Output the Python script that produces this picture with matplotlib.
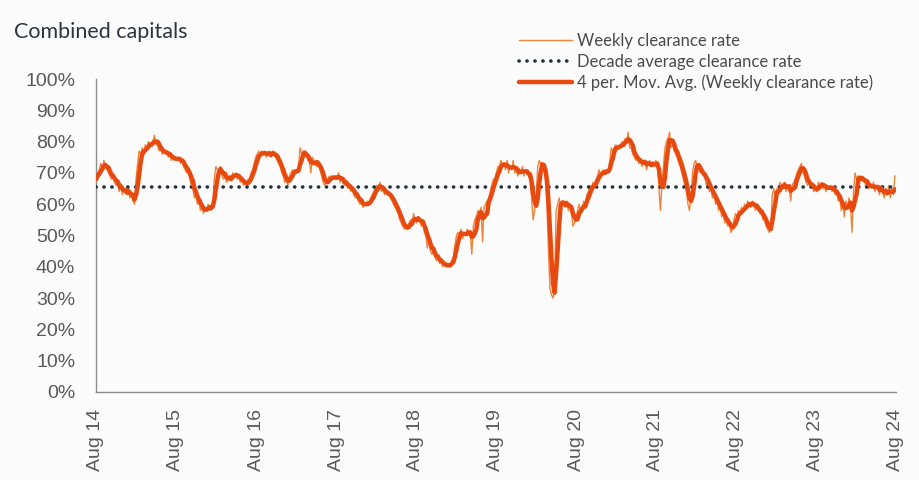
import matplotlib
matplotlib.use("Agg")
import matplotlib.pyplot as plt
import numpy as np
import pandas as pd

title = "Combined capitals"
series_labels = ["Weekly clearance rate", "Decade average clearance rate",
                 "4 per. Mov. Avg. (Weekly clearance rate)"]
start_week = "2014-08-02"
decade_avg = 65.5

# weekly clearance rate (%), one row per year starting in August
weekly_y14 = [68, 70, 71, 73, 71, 74, 72, 71, 70, 69, 68, 69, 67, 66, 67, 64, 66, 63, 65, 64,
              63, 65, 62, 63, 61, 60, 68, 73, 77, 76, 78, 76, 79, 78, 80, 79, 79, 80, 82, 79,
              79, 77, 78, 76, 77, 76, 77, 75, 76, 74, 75, 74]
weekly_y15 = [75, 74, 75, 73, 74, 72, 71, 70, 71, 68, 66, 65, 62, 63, 60, 61, 58, 59, 57, 59,
              58, 60, 59, 58, 60, 68, 72, 71, 70, 72, 69, 68, 70, 67, 68, 69, 68, 70, 69, 70,
              68, 69, 67, 68, 66, 67, 66, 68, 68, 70, 71, 73]
weekly_y16 = [75, 76, 77, 75, 77, 76, 77, 75, 76, 77, 75, 77, 76, 75, 74, 73, 72, 70, 69, 67,
              68, 66, 69, 70, 71, 70, 71, 70, 72, 78, 76, 77, 75, 76, 74, 74, 70, 75, 74, 73,
              72, 73, 71, 69, 67, 66, 67, 68, 69, 68, 69, 68]
weekly_y17 = [69, 68, 70, 67, 68, 67, 66, 67, 65, 66, 64, 65, 63, 62, 63, 61, 60, 61, 59, 60,
              60, 61, 60, 62, 63, 64, 65, 66, 65, 67, 64, 65, 63, 64, 63, 63, 62, 61, 60, 59,
              58, 57, 55, 54, 53, 52, 53, 52, 54, 55, 54, 57]
weekly_y18 = [55, 54, 56, 55, 53, 54, 51, 50, 46, 49, 45, 44, 45, 43, 42, 43, 41, 42, 40, 41,
              40, 41, 40, 41, 42, 43, 47, 50, 51, 50, 52, 49, 51, 50, 52, 51, 51, 44, 53, 55,
              56, 58, 57, 59, 48, 59, 60, 61, 62, 64, 66, 68]
weekly_y19 = [68, 70, 72, 72, 74, 72, 73, 71, 74, 70, 72, 71, 74, 70, 71, 69, 71, 70, 72, 69,
              71, 70, 69, 68, 62, 55, 58, 63, 72, 74, 73, 72, 71, 68, 60, 45, 33, 31, 30, 33,
              58, 60, 62, 59, 61, 60, 59, 61, 58, 60, 57, 53]
weekly_y20 = [54, 56, 58, 60, 57, 59, 61, 60, 63, 64, 66, 65, 67, 66, 68, 69, 71, 69, 70, 71,
              70, 71, 70, 74, 78, 77, 78, 79, 78, 78, 79, 80, 79, 81, 80, 83, 78, 78, 76, 75,
              74, 75, 73, 74, 72, 74, 74, 71, 73, 74, 72, 73]
weekly_y21 = [72, 74, 73, 66, 58, 66, 72, 78, 80, 81, 83, 78, 79, 77, 76, 75, 73, 72, 70, 68,
              66, 64, 60, 58, 62, 70, 73, 74, 72, 71, 70, 70, 69, 69, 66, 67, 64, 65, 62, 63,
              60, 61, 58, 59, 56, 57, 54, 55, 53, 54, 51, 52]
weekly_y22 = [55, 57, 56, 58, 57, 59, 58, 60, 59, 61, 60, 59, 61, 60, 58, 59, 58, 57, 57, 55,
              55, 53, 52, 51, 52, 63, 65, 62, 65, 64, 67, 66, 65, 67, 64, 66, 66, 61, 66, 67,
              68, 70, 71, 72, 73, 70, 69, 67, 66, 67, 66, 66]
weekly_y23 = [64, 65, 64, 67, 66, 67, 65, 66, 64, 66, 65, 66, 64, 65, 63, 64, 61, 62, 58, 60,
              56, 61, 59, 62, 60, 51, 64, 70, 68, 69, 67, 68, 69, 67, 66, 67, 65, 66, 65, 67,
              64, 66, 65, 63, 66, 64, 62, 65, 63, 66, 62, 65, 63, 69]

tick_labels = ["Aug 14", "Aug 15", "Aug 16", "Aug 17", "Aug 18", "Aug 19",
               "Aug 20", "Aug 21", "Aug 22", "Aug 23", "Aug 24"]
tick_dates = ["2014-08-01", "2015-08-01", "2016-08-01", "2017-08-01", "2018-08-01",
              "2019-08-01", "2020-08-01", "2021-08-01", "2022-08-01", "2023-08-01",
              "2024-08-01"]
y_ticks = [0, 10, 20, 30, 40, 50, 60, 70, 80, 90, 100]

weekly = np.concatenate([weekly_y14, weekly_y15, weekly_y16, weekly_y17, weekly_y18,
                         weekly_y19, weekly_y20, weekly_y21, weekly_y22, weekly_y23]).astype(float)
dates = pd.date_range(start_week, periods=len(weekly), freq="7D")
moving_avg = pd.Series(weekly).rolling(4, min_periods=1).mean().to_numpy()

bg = "#fcfcfc"
fig = plt.figure(figsize=(9.19, 4.8), dpi=100, facecolor=bg)
ax = fig.add_axes([96 / 919, 88 / 480, 800 / 919, 313 / 480], facecolor=bg)

l1, = ax.plot(dates, weekly, color="#f0833a", linewidth=1.0, zorder=2)
l2 = ax.axhline(decade_avg, color="#243342", linewidth=2.6, linestyle=(0, (0.05, 2.15)),
                dash_capstyle="round", zorder=3)
l3, = ax.plot(dates, moving_avg, color="#e8490f", linewidth=3.2, solid_joinstyle="round",
              solid_capstyle="round", zorder=4)

ax.set_xlim(pd.Timestamp(tick_dates[0]), pd.Timestamp(tick_dates[-1]))
ax.set_ylim(0, 100)
ax.set_xticks(pd.to_datetime(tick_dates))
ax.set_xticklabels(tick_labels, rotation=90, fontsize=14, color="#595959",
                   family=["Liberation Sans", "DejaVu Sans"])
ax.set_yticks(y_ticks)
ax.set_yticklabels([f"{v}%" for v in y_ticks], fontsize=14, color="#595959",
                   family=["Liberation Sans", "DejaVu Sans"])
ax.tick_params(axis="y", length=0, pad=15)
ax.tick_params(axis="x", length=0, pad=12)
for side in ["top", "right"]:
    ax.spines[side].set_visible(False)
for side in ["left", "bottom"]:
    ax.spines[side].set_color("#8c8c8c")
    ax.spines[side].set_linewidth(1.0)

fig.text(14 / 919, 1 - 32 / 480, title, fontsize=15.5, color="#2b3440", va="center",
         family=["Lato", "DejaVu Sans"])

fig.legend([l1, l2, l3], series_labels, loc="upper left",
           bbox_to_anchor=(504 / 919, 1 - 18 / 480), frameon=False,
           handlelength=3.2, handletextpad=0.3, labelspacing=0.28,
           labelcolor="#4a4a4a", prop={"family": ["Lato", "DejaVu Sans"], "size": 12})

fig.savefig("out.png", dpi=100, facecolor=bg)
